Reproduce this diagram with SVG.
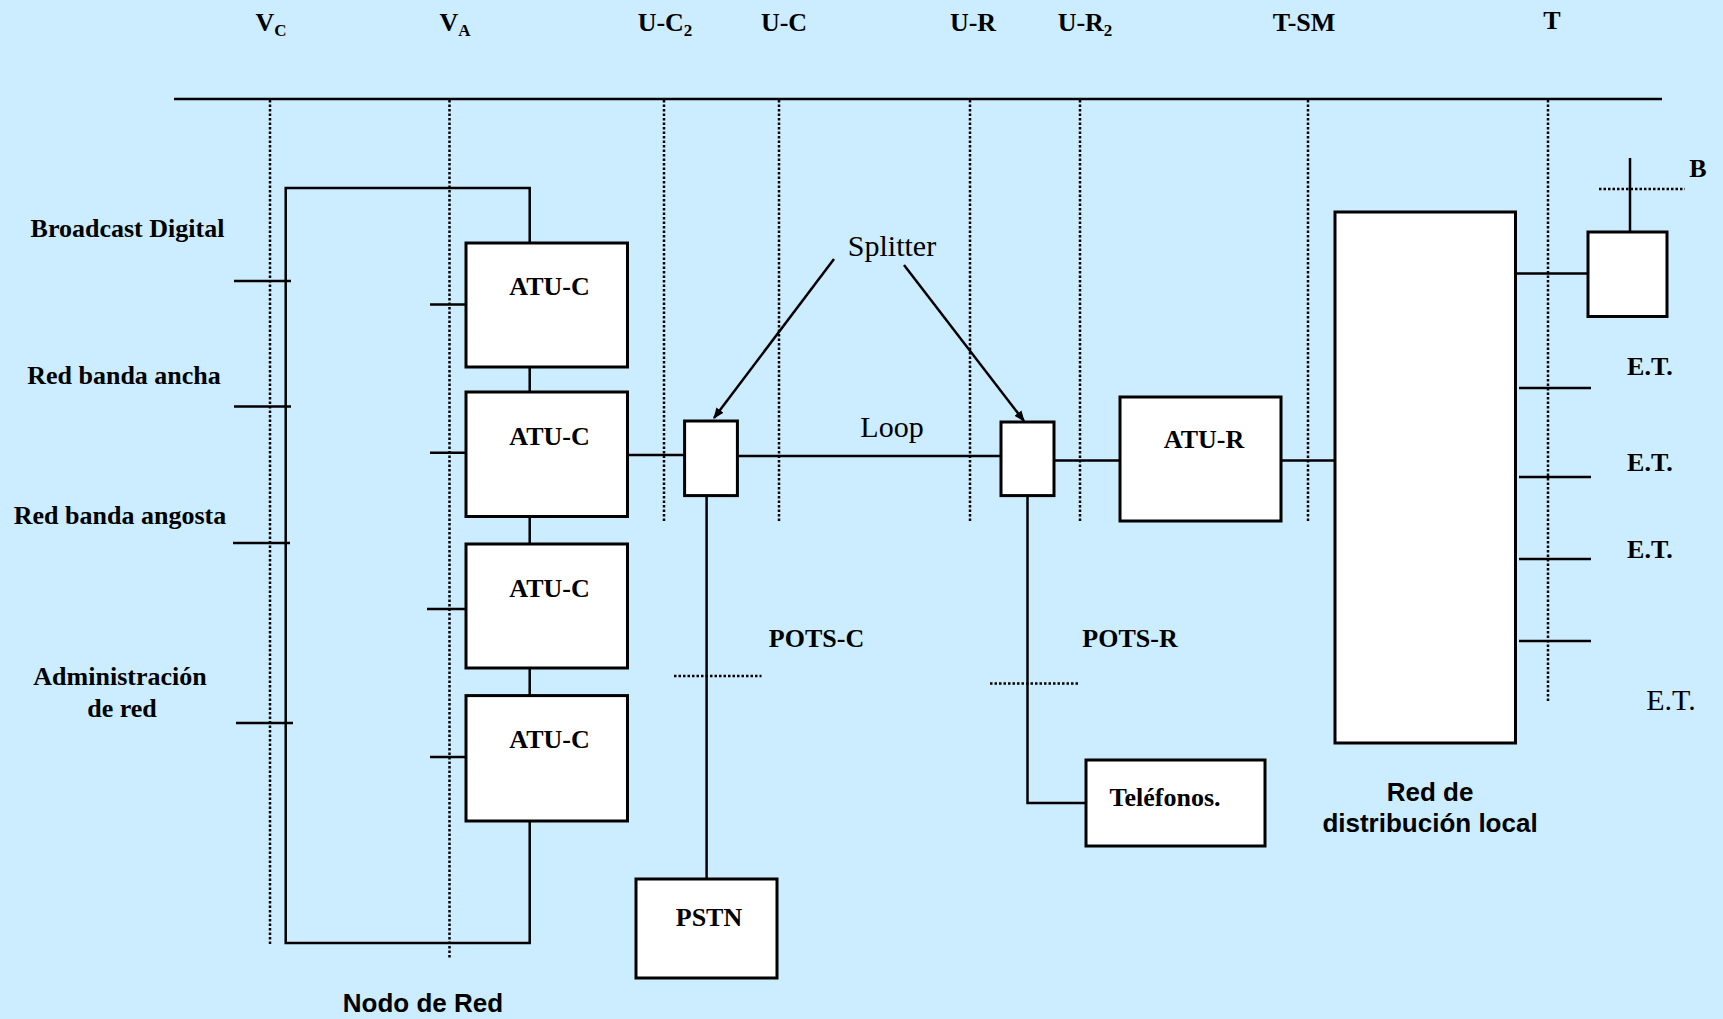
<svg xmlns="http://www.w3.org/2000/svg" width="1723" height="1019" viewBox="0 0 1723 1019">
<defs>
<marker id="ah" viewBox="0 0 10 10" refX="9" refY="5" markerWidth="11" markerHeight="11" orient="auto" markerUnits="userSpaceOnUse">
<path d="M0,1 L10,5 L0,9 z" fill="#000"/>
</marker>
<style>
.bg{fill:#CCECFF}
.box{fill:#fff;stroke:#000;stroke-width:3}
.ln{fill:none;stroke:#000;stroke-width:2.5}
.dot{fill:none;stroke:#000;stroke-width:2.5;stroke-dasharray:2.5,2}
.tb{font-family:"Liberation Serif","Times New Roman",serif;font-weight:bold;font-size:26px;fill:#000;text-anchor:middle}
.tr{font-family:"Liberation Serif","Times New Roman",serif;font-size:30px;fill:#000;text-anchor:middle}
.ts{font-family:"Liberation Sans",Arial,sans-serif;font-weight:bold;font-size:26px;fill:#000;text-anchor:middle}
.sub{font-size:17px}
</style>
</defs>
<rect class="bg" x="0" y="0" width="1723" height="1019"/>

<g id="reference-axis">
<line class="ln" x1="174" y1="99" x2="1662" y2="99" stroke-width="3"/>
<line class="dot" x1="270" y1="100" x2="270" y2="945"/>
<line class="dot" x1="449.5" y1="100" x2="449.5" y2="959"/>
<line class="dot" x1="664" y1="100" x2="664" y2="521"/>
<line class="dot" x1="779" y1="100" x2="779" y2="521"/>
<line class="dot" x1="970" y1="100" x2="970" y2="521"/>
<line class="dot" x1="1080" y1="100" x2="1080" y2="521"/>
<line class="dot" x1="1308" y1="100" x2="1308" y2="521"/>
<line class="dot" x1="1548" y1="100" x2="1548" y2="703"/>
<text class="tb" x="271" y="31">V<tspan class="sub" dy="5">C</tspan></text>
<text class="tb" x="455" y="31">V<tspan class="sub" dy="5">A</tspan></text>
<text class="tb" x="665" y="31">U-C<tspan class="sub" dy="5">2</tspan></text>
<text class="tb" x="784" y="31">U-C</text>
<text class="tb" x="973" y="31">U-R</text>
<text class="tb" x="1085" y="31">U-R<tspan class="sub" dy="5">2</tspan></text>
<text class="tb" x="1304" y="31">T-SM</text>
<text class="tb" x="1552" y="29">T</text>
</g>

<g id="connectors">
<path class="ln" d="M529.7,243 V188 H285.7 V943 H529.7 V821"/>
<line class="ln" x1="529.7" y1="367" x2="529.7" y2="392"/>
<line class="ln" x1="529.7" y1="516.5" x2="529.7" y2="544"/>
<line class="ln" x1="529.7" y1="668" x2="529.7" y2="695.6"/>
<line class="ln" x1="234" y1="281" x2="291" y2="281"/>
<line class="ln" x1="234" y1="406.6" x2="291" y2="406.6"/>
<line class="ln" x1="233" y1="543" x2="290" y2="543"/>
<line class="ln" x1="236" y1="723" x2="293" y2="723"/>
<line class="ln" x1="430" y1="304.4" x2="466" y2="304.4"/>
<line class="ln" x1="430" y1="452.8" x2="466" y2="452.8"/>
<line class="ln" x1="427" y1="609" x2="466" y2="609"/>
<line class="ln" x1="430" y1="757" x2="466" y2="757"/>
<line class="ln" x1="627.5" y1="455" x2="684.6" y2="455"/>
<line class="ln" x1="737.4" y1="456" x2="1001" y2="456"/>
<line class="ln" x1="1054" y1="460.5" x2="1120" y2="460.5"/>
<line class="ln" x1="1281" y1="460.5" x2="1335" y2="460.5"/>
<line class="ln" x1="706.6" y1="495.6" x2="706.6" y2="879"/>
<path class="ln" d="M1027.5,495.6 V803 H1086"/>
<line class="dot" x1="674" y1="676" x2="761.5" y2="676"/>
<line class="dot" x1="990" y1="683.5" x2="1078" y2="683.5"/>
<line class="ln" x1="1515.5" y1="273.6" x2="1588" y2="273.6"/>
<line class="ln" x1="1630" y1="158" x2="1630" y2="232"/>
<line class="dot" x1="1599" y1="189" x2="1685" y2="189"/>
<line class="ln" x1="1519" y1="388" x2="1591" y2="388"/>
<line class="ln" x1="1519" y1="477" x2="1591" y2="477"/>
<line class="ln" x1="1519" y1="559" x2="1591" y2="559"/>
<line class="ln" x1="1519" y1="641" x2="1591" y2="641"/>
<line class="ln" x1="834" y1="259" x2="714" y2="418" marker-end="url(#ah)"/>
<line class="ln" x1="904" y1="265" x2="1024" y2="421" marker-end="url(#ah)"/>
</g>

<g id="labels-left">
<text class="tb" x="127.5" y="237">Broadcast Digital</text>
<text class="tb" x="124" y="383.5">Red banda ancha</text>
<text class="tb" x="120" y="524">Red banda angosta</text>
<text class="tb" x="120" y="684.6">Administración</text>
<text class="tb" x="122" y="716.5">de red</text>
</g>

<g id="atu-c-1"><rect class="box" x="466" y="243" width="161.5" height="124"/><text class="tb" x="549.5" y="294.5">ATU-C</text></g>
<g id="atu-c-2"><rect class="box" x="466" y="392" width="161.5" height="124.5"/><text class="tb" x="549.5" y="445">ATU-C</text></g>
<g id="atu-c-3"><rect class="box" x="466" y="544" width="161.5" height="124"/><text class="tb" x="549.5" y="597">ATU-C</text></g>
<g id="atu-c-4"><rect class="box" x="466" y="695.6" width="161.5" height="125.4"/><text class="tb" x="549.5" y="748">ATU-C</text></g>

<g id="nodo-de-red-label"><text class="ts" x="423" y="1012">Nodo de Red</text></g>

<g id="splitter-c"><rect class="box" x="684.6" y="421" width="52.8" height="74.6"/></g>
<g id="splitter-r"><rect class="box" x="1001" y="422" width="53" height="73.6"/></g>
<g id="splitter-label"><text class="tr" x="892" y="256">Splitter</text></g>
<g id="loop-label"><text class="tr" x="892" y="437">Loop</text></g>

<g id="pots-c"><text class="tb" x="816.5" y="647">POTS-C</text></g>
<g id="pots-r"><text class="tb" x="1130" y="647">POTS-R</text></g>

<g id="pstn"><rect class="box" x="636" y="879" width="141" height="99"/><text class="tb" x="709" y="926">PSTN</text></g>
<g id="telefonos"><rect class="box" x="1086" y="760" width="179" height="86"/><text class="tb" x="1165" y="805.5">Teléfonos.</text></g>

<g id="atu-r"><rect class="box" x="1120" y="397" width="161" height="124"/><text class="tb" x="1204" y="448">ATU-R</text></g>

<g id="red-distribucion"><rect class="box" x="1335" y="212" width="180.5" height="531"/>
<text class="ts" x="1430" y="801">Red de</text>
<text class="ts" x="1430" y="832">distribución local</text></g>

<g id="terminal-b"><rect class="box" x="1588" y="232" width="79" height="84.5"/><text class="tb" x="1698" y="177">B</text></g>

<g id="et-labels">
<text class="tb" x="1650" y="375">E.T.</text>
<text class="tb" x="1650" y="471">E.T.</text>
<text class="tb" x="1650" y="558">E.T.</text>
<text class="tr" x="1671" y="710">E.T.</text>
</g>
</svg>
